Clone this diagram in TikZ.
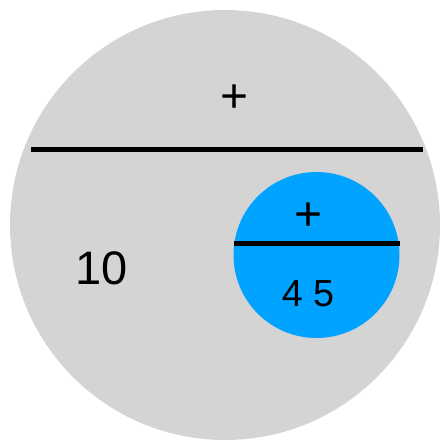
\documentclass[tikz,border=0pt]{standalone}
\usepackage{fontspec}
\setmainfont{Liberation Sans}
\definecolor{bggray}{RGB}{212,212,212}
\definecolor{skyblue}{RGB}{0,163,255}
\begin{document}
\begin{tikzpicture}[x=1pt,y=-1pt,
  disc/.style={circle,inner sep=0pt,draw=none},
  bar/.style={line width=5pt,black},
  lbl/.style={inner sep=0pt,text=black}]
\useasboundingbox (0,0) rectangle (440,440);
\node[disc,fill=bggray,minimum size=430pt] (outer) at (225,225) {};
\node[disc,fill=skyblue,minimum size=166pt] (inner) at (316.5,255) {};
\coordinate (ol) at (31,149.5);
\coordinate (or) at (423,149.5);
\draw[bar] (ol) -- (or);
\coordinate (il) at (234,243.5);
\coordinate (ir) at (400,243.5);
\draw[bar] (il) -- (ir);
\node[lbl,anchor=base,font=\fontsize{48}{48}\selectfont] (p1) at (234.7,112) {+};
\node[lbl,anchor=base,font=\fontsize{48}{48}\selectfont] (p2) at (309,230) {+};
\node[lbl,font=\fontsize{47}{47}\selectfont] (ten) at (102,268) {10};
\node[lbl,font=\fontsize{37.7}{37.7}\selectfont] (ff) at (308,293.5) {4 5};
\end{tikzpicture}
\end{document}
